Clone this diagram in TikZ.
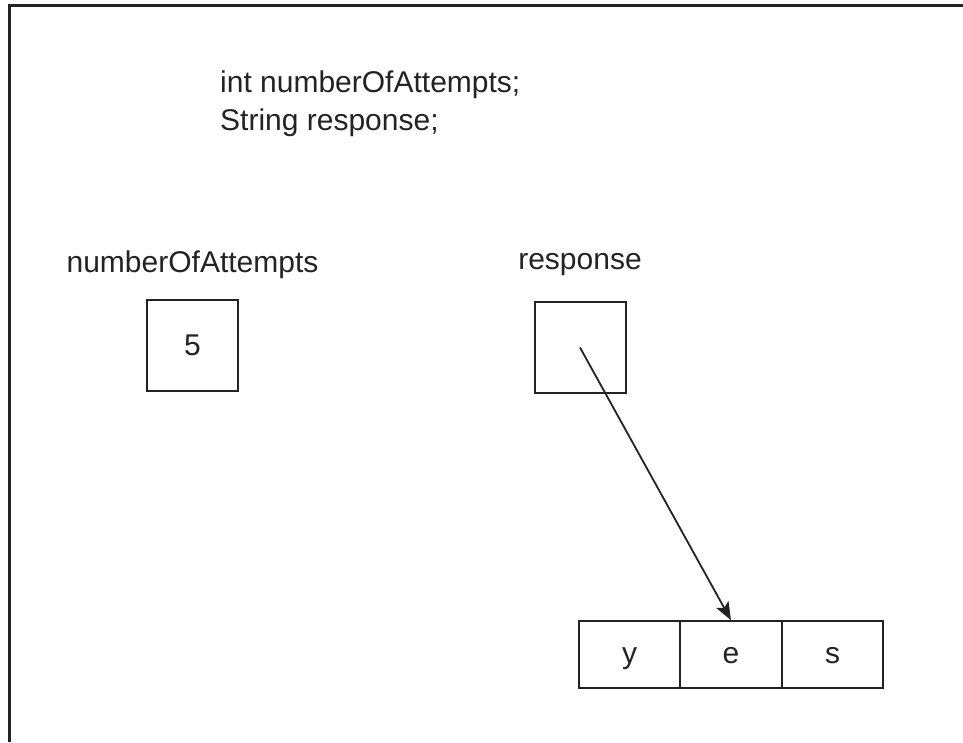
\documentclass[tikz,border=0pt]{standalone}
\usepackage{fontspec}
\usepackage{xcolor}
\usetikzlibrary{arrows.meta}
\setmainfont{Liberation Sans}
\definecolor{ink}{RGB}{35, 35, 35}

\begin{document}
\begin{tikzpicture}[
    x=1pt, y=-1pt,
    every node/.style={font=\fontsize{30}{38}\selectfont, text=ink},
    cell/.style={draw=ink, line width=2pt, minimum width=91pt, minimum height=91pt, inner sep=0pt},
    slot/.style={draw=ink, line width=1.6pt, minimum width=101.5pt, minimum height=67pt, inner sep=0pt,
        text height=22pt, text depth=5pt},
    label/.style={anchor=base, inner sep=0pt},
    arrow/.style={-{Stealth[length=18pt, width=14pt, inset=4pt]}, line width=1.8pt, draw=ink}
]
    \useasboundingbox (0,0) rectangle (963,742);

    % Frame
    \draw[ink, line width=3pt] (9,742) -- (9,5) -- (963,5);

    % Declarations
    \node[anchor=base west, inner sep=0pt, align=left] (decl) at (220,130)
        {int numberOfAttempts;\\String response;};

    % Variables
    \node[cell] (num) at (192.5,345.5) {5};
    \node[label] (numlabel) at (192.5,272) {numberOfAttempts};

    \node[cell] (resp) at (580,347.5) {};
    \node[label] (resplabel) at (580,269) {response};

    % String object
    \node[slot] (y) at (629.5,654.5) {y};
    \node[slot] (e) at (731,654.5) {e};
    \node[slot] (s) at (832.5,654.5) {s};

    % Reference
    \draw[arrow] (resp.center) -- (e.north);
\end{tikzpicture}
\end{document}
